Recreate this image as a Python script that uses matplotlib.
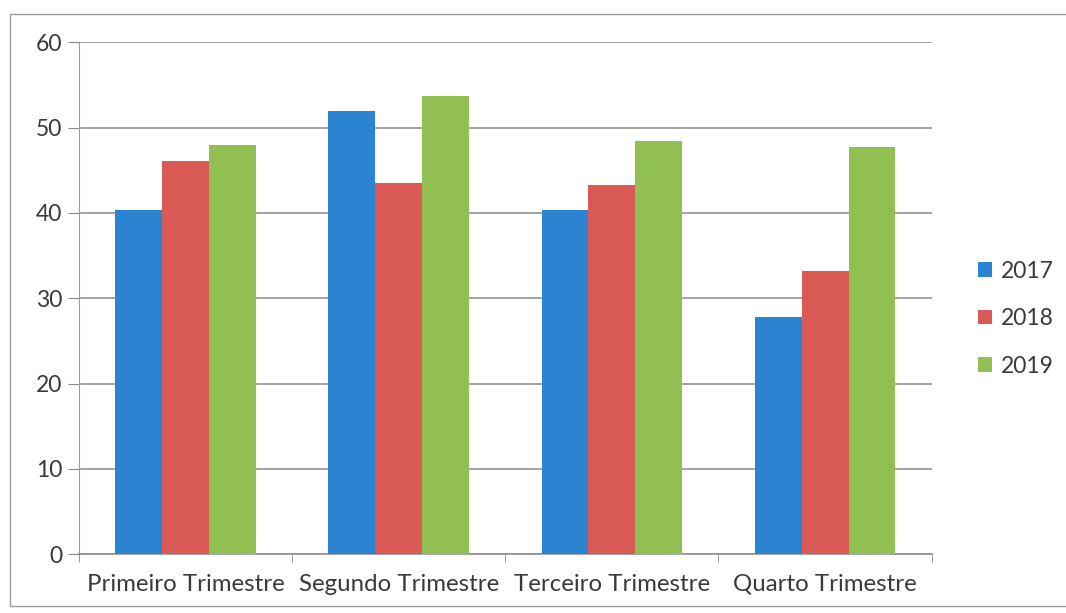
import matplotlib
matplotlib.use("Agg")
import matplotlib.pyplot as plt
import numpy as np
from matplotlib.patches import Rectangle

plt.rcParams["font.family"] = ["Lato", "DejaVu Sans"]

categories = ["Primeiro Trimestre", "Segundo Trimestre",
              "Terceiro Trimestre", "Quarto Trimestre"]
years = ["2017", "2018", "2019"]
v2017 = [40.4, 52.0, 40.3, 27.8]
v2018 = [46.1, 43.5, 43.3, 33.2]
v2019 = [48.0, 53.7, 48.4, 47.7]
colors = ["#2a84d2", "#d95a55", "#92bf52"]

fig = plt.figure(figsize=(10.66, 6.13), dpi=100)
ax = fig.add_axes([0.074, 0.096, 0.8, 0.835])

# outer chart frame
fig.patches.append(Rectangle((0.009, 0.012), 1.2, 0.965,
                             transform=fig.transFigure, fill=False,
                             ec="#9a9a9a", lw=1.0))

x = np.arange(len(categories))
w = 0.22
for i, (vals, c, lab) in enumerate(zip([v2017, v2018, v2019], colors, years)):
    ax.bar(x + (i - 1) * w, vals, width=w, color=c, label=lab, zorder=3)

ax.set_xlim(-0.5, len(categories) - 0.5)
ax.set_ylim(0, 60)
ax.set_yticks(range(0, 61, 10))
ax.yaxis.grid(True, color="#8a8a8a", lw=1.1, zorder=0)
ax.set_xticks(x)
ax.set_xticklabels(categories, fontsize=17.3, color="#3a3a3a")
ax.tick_params(axis="x", length=0, pad=14)
ax.set_xticks(np.arange(-0.5, len(categories)), minor=True)
ax.tick_params(axis="x", which="minor", length=6, color="#8a8a8a")
ax.tick_params(axis="y", length=8, color="#8a8a8a", labelsize=16.5,
               labelcolor="#3a3a3a", pad=4)
for s in ("top", "right"):
    ax.spines[s].set_visible(False)
ax.spines["left"].set_color("#9a9a9a")
ax.spines["bottom"].set_color("#8a8a8a")
ax.spines["bottom"].set_linewidth(1.1)

ax.legend(loc="center left", bbox_to_anchor=(1.03, 0.46), frameon=False,
          fontsize=16.5, handlelength=0.6, handleheight=0.6,
          handletextpad=0.4, labelspacing=1.15, labelcolor="#3a3a3a")

fig.savefig("out.png", dpi=100)
